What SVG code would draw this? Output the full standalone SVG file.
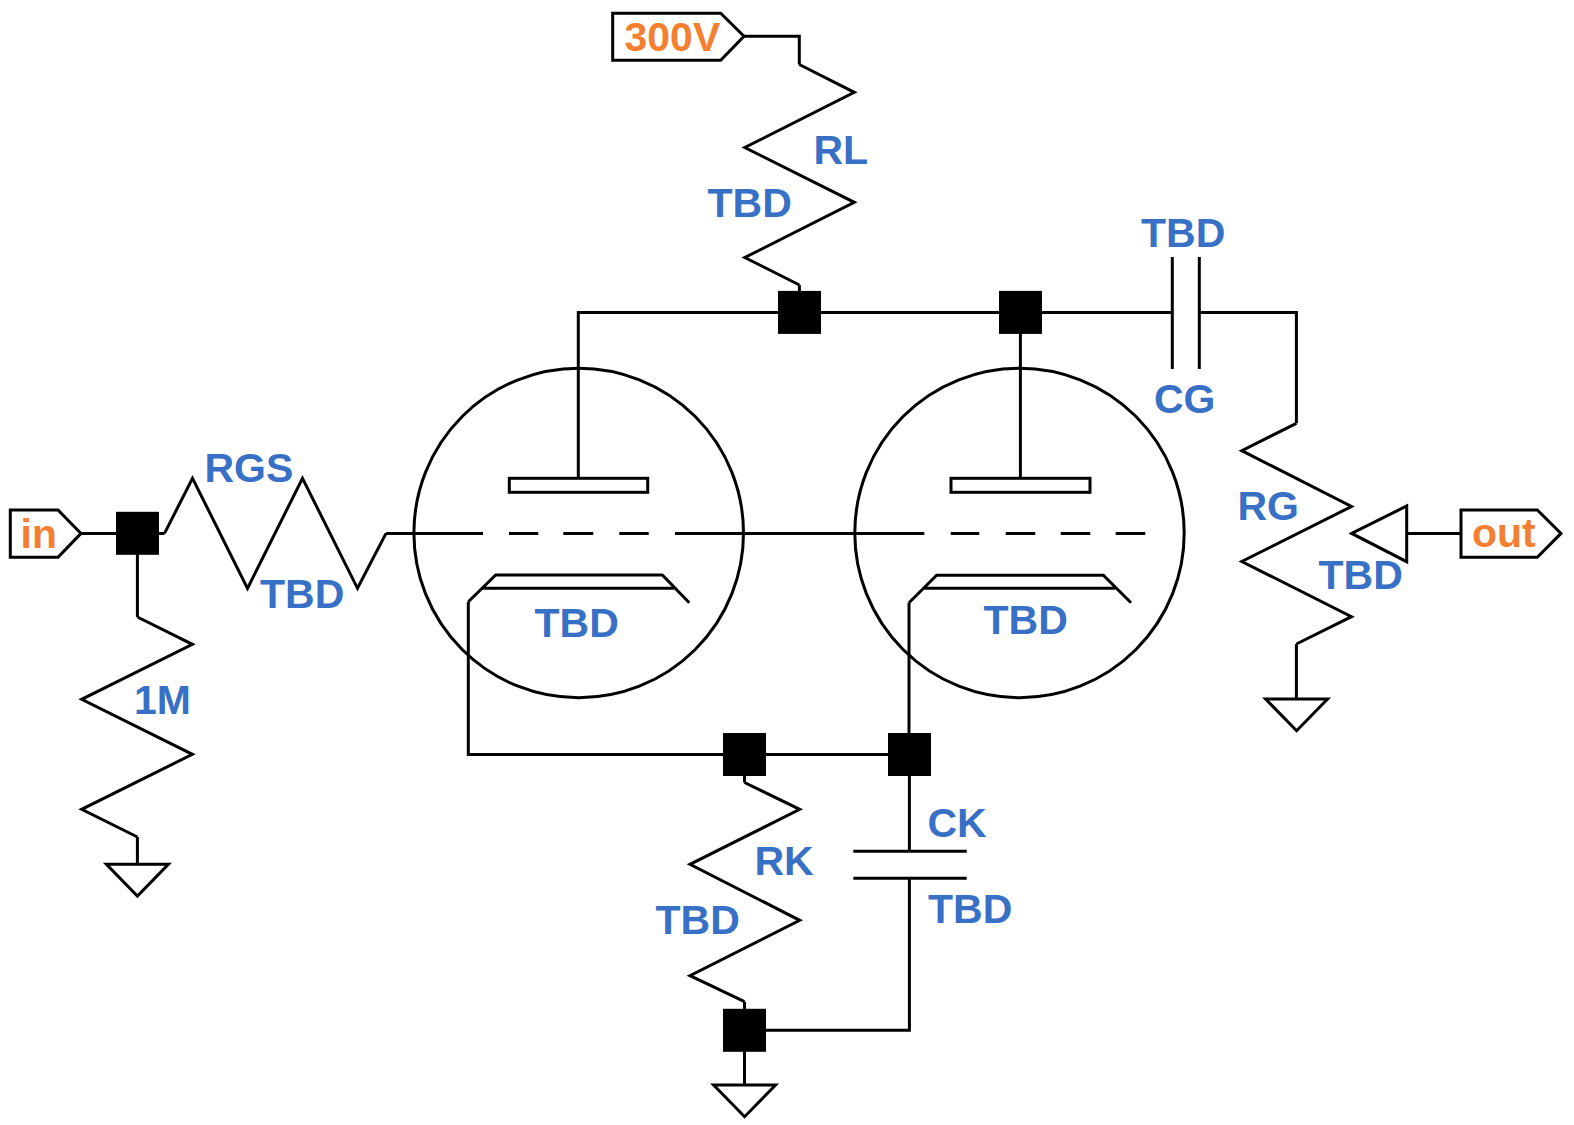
<svg xmlns="http://www.w3.org/2000/svg" width="1574" height="1125" viewBox="0 0 1574 1125">
<style>
.w{fill:none;stroke:#000;stroke-width:3;stroke-linejoin:miter;stroke-linecap:butt}
.s{fill:#fff;stroke:#000;stroke-width:3;stroke-linejoin:miter}
.j{fill:#000;stroke:none}
text{font-family:"Liberation Sans",Arial,sans-serif;font-weight:700;font-size:41px}
.b{fill:#3870C6}
.o{fill:#F47F30}
</style>
<defs>
<rect id="dot" class="j" x="-21.5" y="-21.5" width="43" height="43"/>
<polygon id="gnd" class="s" points="-31,0 31,0 0,31.7"/>
</defs>
<rect width="1574" height="1125" fill="#fff"/>
<g id="connectors">
<path class="w" d="M81 533.4H116M159 533.4H164.5"/>
<path class="w" d="M137.4 554V617M137.4 837V864"/>
<path class="w" d="M386 533.4H483"/>
<path class="w" d="M744 36.3H799.3V64.5"/>
<path class="w" d="M799.4 285V291.5"/>
<path class="w" d="M578.3 478.3V312.4H778M820.7 312.4H999M1042 312.4H1172.3M1199.3 312.4H1296.4V423.3"/>
<path class="w" d="M1020.4 333V478.3"/>
<path class="w" d="M1296.4 644V699"/>
<path class="w" d="M1406.7 533.4H1461"/>
<path class="w" d="M468.3 601.7V754.4H723M766 754.4H888"/>
<path class="w" d="M909 602.7V733"/>
<path class="w" d="M744.5 776V782.5M744.5 1001.7V1009M744.5 1051V1085"/>
<path class="w" d="M909.4 776V851.3M909.4 878.3V1030.3H766"/>
<path class="w" d="M675 533.4H924.3"/>
</g>
<g id="tag-in"><polygon class="s" points="10.3,510 58,510 81,533.4 58,557.3 10.3,557.3"/><text class="o" x="20.5" y="547.7">in</text></g>
<g id="tag-300v"><polygon class="s" points="612.7,13.3 720.7,13.3 744,36.3 720.7,60.3 612.7,60.3"/><text class="o" x="624.5" y="50.7">300V</text></g>
<g id="tag-out"><polygon class="s" points="1461,510 1537.3,510 1561,533.4 1537.3,557.3 1461,557.3"/><text class="o" x="1472" y="546.7">out</text></g>
<g id="R-1M"><polyline class="w" points="137.4,617 192.4,644.3 81.7,699.3 192.4,754.3 81.7,809.3 137.4,837"/><text class="b" x="134" y="714">1M</text></g>
<g id="RGS"><polyline class="w" points="164.5,533.4 192.5,478.3 247.5,588.3 302.5,478.3 357.5,588.3 386,533.4"/><text class="b" x="204.5" y="482.3">RGS</text><text class="b" x="260" y="608.3">TBD</text></g>
<g id="RL"><polyline class="w" points="799.3,64.5 854.3,92.3 744.8,147.5 854.3,202.3 744.8,257.5 799.4,285"/><text class="b" x="813.5" y="164.3">RL</text><text class="b" x="707.5" y="216.7">TBD</text></g>
<g id="RG"><polyline class="w" points="1296.4,423.3 1241.8,450.7 1351.5,506.5 1241.8,561.5 1351.5,616.7 1296.4,644"/><text class="b" x="1237.5" y="520">RG</text><text class="b" x="1318.5" y="589.3">TBD</text></g>
<g id="RK"><polyline class="w" points="744.5,782.5 799.7,809.3 690,864.3 799.7,920.3 690,975.7 744.5,1001.7"/><text class="b" x="754.5" y="875.3">RK</text><text class="b" x="655.5" y="934">TBD</text></g>
<g id="CG"><path class="w" d="M1172.3 257V369M1199.3 257V369"/><text class="b" x="1141" y="246.5">TBD</text><text class="b" x="1154" y="412.7">CG</text></g>
<g id="CK"><path class="w" d="M853.3 851.3H966.7M853.3 878.3H966.7"/><text class="b" x="927.5" y="836.7">CK</text><text class="b" x="928" y="923.3">TBD</text></g>
<g id="tube1">
<circle class="w" cx="578.7" cy="533" r="164.8"/>
<rect class="s" x="509.3" y="478.3" width="138.4" height="14"/>
<path class="w" d="M509 533.4H538.3M563.3 533.4H593.3M619.3 533.4H648.7"/>
<path class="w" d="M468.3 601.7L495.7 575H662.3L689.3 602.7M482 588.3H674"/>
<text class="b" x="534.5" y="637.3">TBD</text>
</g>
<g id="tube2">
<circle class="w" cx="1019.5" cy="533" r="164.7"/>
<rect class="s" x="951" y="478.3" width="139" height="14"/>
<path class="w" d="M950.7 533.4H979.3M1005.7 533.4H1035.3M1060.7 533.4H1090.3M1115.7 533.4H1145.3"/>
<path class="w" d="M909 602.7L936.7 575.3H1103.3L1131 602.7M923.3 588.3H1115"/>
<text class="b" x="983.5" y="634.3">TBD</text>
</g>
<g id="output-triangle"><polygon class="s" style="fill:none" points="1351.7,533.4 1406.7,506 1406.7,561.7"/></g>
<use id="j1" href="#dot" x="137.5" y="533.3"/>
<use id="j2" href="#dot" x="799.5" y="312.4"/>
<use id="j3" href="#dot" x="1020.5" y="312.4"/>
<use id="j4" href="#dot" x="744.5" y="754.5"/>
<use id="j5" href="#dot" x="909.5" y="754.5"/>
<use id="j6" href="#dot" x="744.5" y="1030.3"/>
<use id="gnd1" href="#gnd" x="137.4" y="864.3"/>
<use id="gnd2" href="#gnd" x="1296.6" y="699"/>
<use id="gnd3" href="#gnd" x="744.6" y="1085"/>
</svg>
